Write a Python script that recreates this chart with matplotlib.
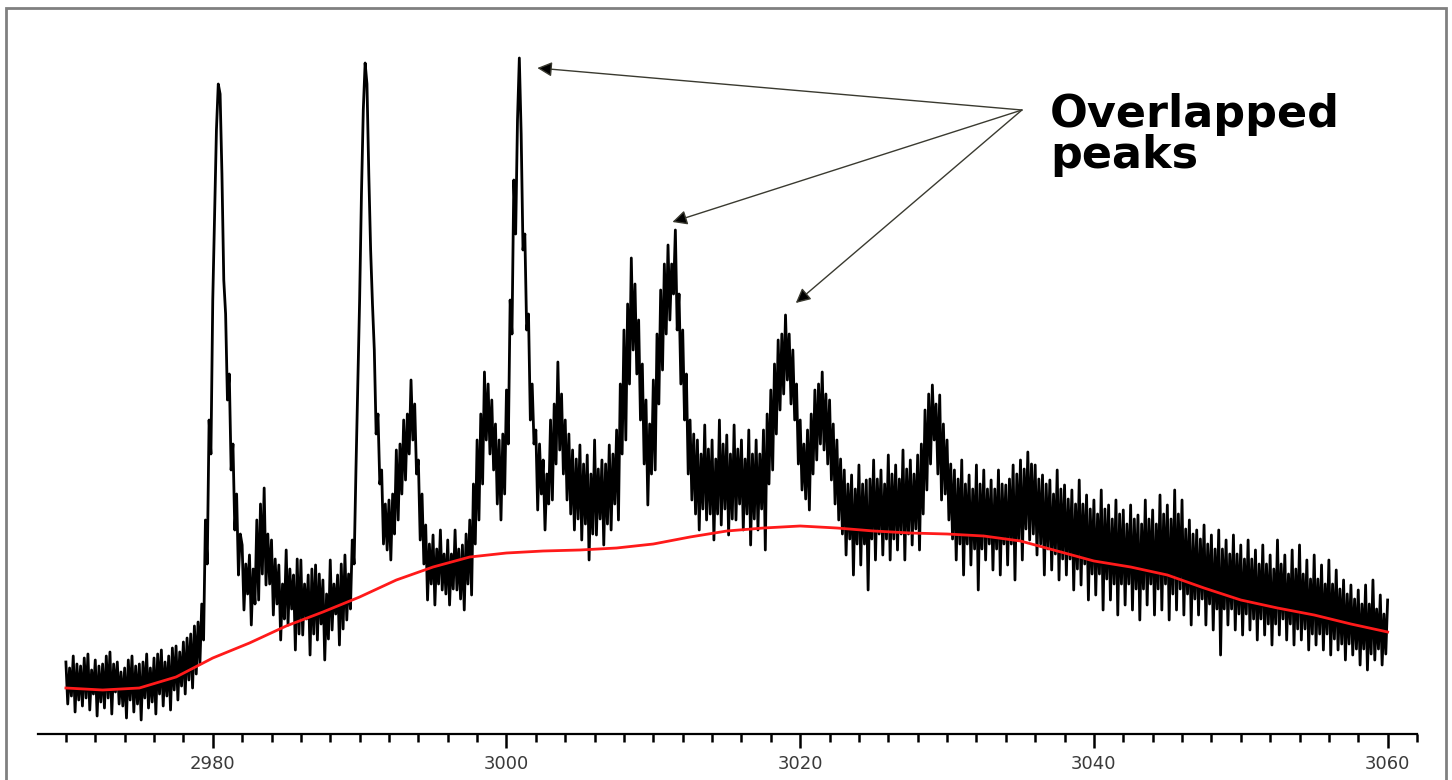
import numpy as np
import matplotlib
matplotlib.use('Agg')
import matplotlib.pyplot as plt
from matplotlib.ticker import MultipleLocator
from matplotlib.patches import Rectangle

# raw spectrum, one sample every 0.125 starting at 2970 (one row per unit)
spec_start = 2970.0
spec_step = 0.125
signal = [
    72, 30, 66, 38, 78, 22, 70, 34,
    68, 28, 76, 36, 80, 24, 64, 40,
    74, 18, 68, 32, 70, 26, 78, 36,
    82, 20, 70, 42, 72, 30, 62, 28,
    66, 16, 74, 34, 78, 22, 68, 30,
    70, 14, 72, 36, 80, 26, 66, 32,
    76, 20, 80, 40, 84, 28, 72, 38,
    78, 24, 86, 44, 88, 34, 82, 48,
    92, 40, 96, 54, 100, 46, 108, 60,
    112, 70, 130, 94, 214, 170, 314, 280,
    434, 520, 604, 650, 640, 560, 454, 420,      # 2980
    334, 360, 264, 290, 204, 240, 159, 200,
    189, 124, 170, 140, 179, 109, 165, 130,
    214, 134, 230, 160, 246, 149, 200, 150,
    194, 119, 175, 130, 169, 94, 150, 115,
    184, 109, 165, 125, 159, 84, 175, 100,
    174, 99, 150, 115, 159, 79, 165, 100,
    169, 94, 160, 110, 154, 74, 140, 95,
    174, 104, 150, 120, 159, 89, 170, 105,
    179, 114, 160, 125, 194, 170, 264, 350,
    434, 540, 624, 671, 650, 560, 484, 430,      # 2990
    384, 300, 320, 250, 264, 190, 230, 184,
    234, 174, 240, 200, 284, 214, 290, 240,
    314, 254, 320, 280, 354, 294, 330, 260,
    274, 194, 240, 170, 209, 134, 190, 150,
    199, 129, 185, 150, 204, 144, 180, 140,
    194, 129, 180, 145, 204, 144, 185, 135,
    189, 124, 200, 150, 214, 139, 250, 190,
    294, 214, 320, 250, 362, 294, 350, 280,
    334, 264, 310, 230, 294, 214, 300, 240,
    344, 290, 434, 400, 554, 500, 614, 676,      # 3000
    600, 484, 500, 404, 420, 314, 350, 290,
    304, 224, 290, 240, 274, 204, 260, 230,
    314, 234, 330, 270, 372, 284, 340, 260,
    314, 234, 300, 220, 284, 204, 275, 215,
    289, 194, 270, 210, 279, 174, 260, 200,
    294, 199, 265, 215, 274, 189, 270, 210,
    289, 204, 280, 230, 304, 214, 350, 280,
    404, 294, 430, 350, 476, 384, 450, 360,
    414, 314, 370, 270, 334, 229, 310, 260,
    354, 264, 400, 330, 444, 364, 470, 400,      # 3010
    489, 414, 470, 440, 504, 404, 440, 350,
    404, 314, 360, 260, 314, 234, 300, 220,
    294, 204, 280, 225, 309, 214, 285, 220,
    294, 194, 275, 220, 314, 209, 290, 225,
    299, 199, 280, 215, 309, 214, 285, 230,
    294, 204, 275, 220, 304, 189, 280, 215,
    294, 204, 280, 225, 304, 184, 320, 250,
    344, 264, 370, 300, 394, 324, 400, 340,
    419, 354, 400, 330, 384, 314, 350, 270,
    314, 244, 290, 235, 304, 224, 320, 260,      # 3020
    344, 274, 350, 290, 362, 284, 340, 270,
    334, 254, 310, 230, 294, 214, 275, 200,
    264, 179, 250, 195, 259, 159, 245, 190,
    269, 169, 250, 190, 254, 144, 255, 195,
    274, 174, 255, 200, 264, 179, 250, 195,
    279, 174, 260, 195, 269, 184, 255, 200,
    284, 174, 265, 200, 274, 189, 260, 205,
    279, 184, 290, 220, 324, 244, 340, 270,
    349, 294, 330, 260, 339, 234, 310, 240,
    294, 214, 270, 195, 264, 174, 255, 190,      # 3030
    274, 159, 250, 190, 259, 169, 245, 185,
    269, 144, 250, 185, 264, 174, 245, 190,
    254, 164, 245, 185, 264, 159, 250, 190,
    249, 169, 255, 190, 269, 154, 260, 195,
    274, 174, 265, 205, 282, 194, 270, 200,
    269, 179, 255, 190, 259, 159, 250, 185,
    254, 164, 240, 180, 264, 154, 245, 175,
    249, 159, 235, 175, 244, 144, 230, 165,
    254, 149, 230, 170, 239, 134, 225, 160,
    234, 139, 220, 160, 244, 124, 225, 155,      # 3040
    229, 134, 215, 150, 234, 119, 220, 150,
    224, 129, 210, 150, 229, 124, 215, 145,
    219, 114, 210, 145, 234, 129, 215, 150,
    224, 119, 210, 145, 239, 124, 220, 150,
    229, 114, 215, 140, 244, 124, 220, 145,
    234, 119, 205, 140, 214, 109, 200, 135,
    204, 119, 195, 135, 209, 109, 190, 130,
    199, 104, 185, 125, 204, 79, 185, 125,
    194, 109, 180, 125, 199, 104, 180, 120,
    189, 99, 175, 120, 194, 104, 175, 115,       # 3050
    184, 94, 170, 115, 189, 99, 170, 110,
    179, 89, 165, 110, 194, 99, 170, 115,
    179, 94, 160, 110, 184, 89, 165, 105,
    189, 94, 160, 105, 174, 84, 155, 100,
    179, 89, 155, 100, 169, 84, 150, 100,
    174, 79, 150, 95, 164, 84, 145, 90,
    154, 74, 140, 90, 149, 79, 135, 85,
    144, 69, 130, 85, 149, 64, 130, 80,
    154, 74, 125, 85, 139, 69, 120, 80,
    134,
]

# fitted baseline, one point every 2.5
base_start = 2970.0
base_step = 2.5
baseline = [46, 44, 46, 57, 76, 91, 108, 122, 137, 154, 167, 177, 181,
            183, 184, 186, 190, 197, 203, 206, 208, 206, 203, 201, 200,
            198, 193, 183, 173, 167, 159, 146, 134, 126, 119, 110, 102]

# arrow tips next to the overlapped peaks, and the common tail
arrow_tips = [(3002.1, 666), (3011.3, 512), (3019.7, 431)]
arrow_tail = (3035.1, 624)
label = 'Overlapped\npeaks'

x_sig = spec_start + spec_step * np.arange(len(signal))
x_base = base_start + base_step * np.arange(len(baseline))

fig = plt.figure(figsize=(14.52, 7.8), dpi=100)
ax = fig.add_axes([38 / 1452, 46 / 780, 1379 / 1452, 734 / 780])

ax.plot(x_sig, signal, color='black', lw=2.0, zorder=2)
ax.plot(x_base, baseline, color='#ff1a1a', lw=2.0, zorder=3)

for tip in arrow_tips:
    ax.annotate('', xy=tip, xytext=arrow_tail,
                arrowprops=dict(arrowstyle='-|>', color='#3a3a30', lw=1.0,
                                mutation_scale=22, shrinkA=0, shrinkB=0,
                                fc='black'))

ax.text(3037.0, 641, label, fontsize=32, fontweight='bold',
        family='DejaVu Sans', ha='left', va='top', linespacing=0.95)

ax.set_xlim(2968.1, 3062.0)
ax.set_ylim(0, 734)
for side in ['left', 'right', 'top']:
    ax.spines[side].set_visible(False)
ax.spines['bottom'].set_linewidth(1.6)
ax.set_yticks([])
ax.xaxis.set_major_locator(MultipleLocator(20))
ax.xaxis.set_minor_locator(MultipleLocator(2))
ax.tick_params(axis='x', which='major', length=10, width=1.8, pad=5,
               labelsize=13, labelcolor='#3a3a3a')
ax.tick_params(axis='x', which='minor', length=6, width=1.8)
ax.patch.set_alpha(0)

# grey frame round the plot
fig.patches.append(Rectangle((6 / 1452, -0.1), 1440 / 1452, 1.1 - 8 / 780,
                             transform=fig.transFigure, fill=False,
                             edgecolor='#808080', lw=2.0))

fig.savefig('out.png', dpi=100)
